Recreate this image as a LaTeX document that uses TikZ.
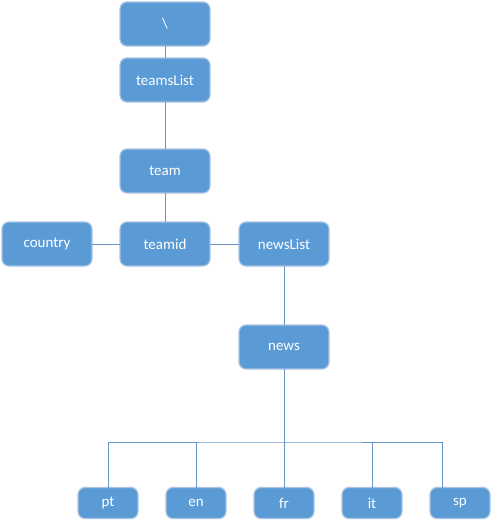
\documentclass[tikz,border=0pt]{standalone}
\usepackage{fontspec}
\setmainfont{Carlito}
\usetikzlibrary{positioning,calc}
\definecolor{boxblue}{HTML}{5B9BD5}
\definecolor{boxedge}{HTML}{A9C3E3}
\definecolor{linkblue}{HTML}{6A95C8}

\begin{document}
\begin{tikzpicture}[
        x=1pt, y=-1pt,
        node distance=28pt,
        item/.style={rectangle, draw=boxedge, line width=1.2pt, outer sep=0pt, fill=boxblue, text=white, rounded corners=7pt, minimum width=90pt, minimum height=44pt, font=\fontsize{15}{17}\selectfont},
        leaf/.style={item, minimum width=60pt, minimum height=31pt},
        link/.style={draw=linkblue, line width=0.9pt}
      ]
        \useasboundingbox (0,0) rectangle (492,522);

        % Teams part
        \node[item] (root) at (165,24) {\textbackslash};
        \node[item, below=12pt of root] (teams) {teamsList};
        \node[item, below=47pt of teams] (team) {team};
        \node[item, below=29pt of team] (teamid) {teamid};
        \node[item, left=28pt of teamid] (country) {country};
        \node[item, right=29pt of teamid] (newslist) {newsList};

        % News part
        \node[item, below=59pt of newslist] (news) {news};

        % Languages
        \node[leaf] (fr) at (284,503) {fr};
        \node[leaf, left=of fr] (en) {en};
        \node[leaf, left=of en] (pt) {pt};
        \node[leaf, right=of fr] (it) {it};
        \node[leaf, right=of it] (sp) {sp};

        % Links
        \draw[link] (root) -- (teams);
        \draw[link] (teams) -- (team);
        \draw[link] (team) -- (teamid);
        \draw[link] (country) -- (teamid);
        \draw[link] (teamid) -- (newslist);
        \draw[link] (newslist) -- (news);
        \coordinate (bus) at ($(news.south)+(0,73)$);
        \draw[link] (news) -- (bus);
        \draw[link] (pt.north) |- (bus) -| ([xshift=-18pt]sp.north);
        \draw[link] (en) -- (en |- bus);
        \draw[link] (fr) -- (fr |- bus);
        \draw[link] (it) -- (it |- bus);
      \end{tikzpicture}
\end{document}
